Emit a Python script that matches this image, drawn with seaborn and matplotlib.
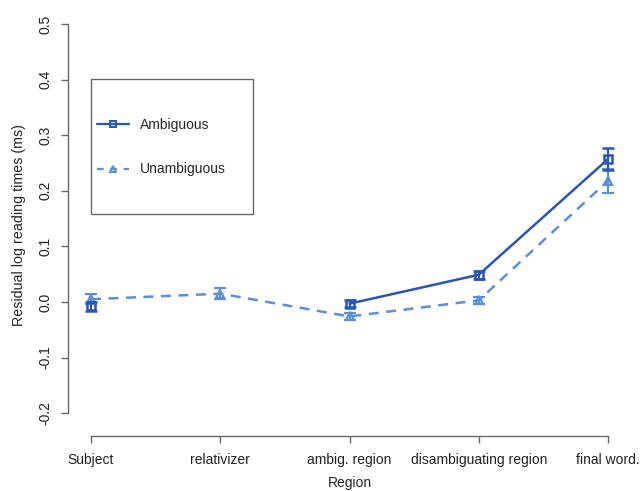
import matplotlib
matplotlib.use("Agg")
import matplotlib.pyplot as plt
import seaborn as sns
import numpy as np
import pandas as pd
from matplotlib.lines import Line2D
from matplotlib.patches import Rectangle

regions = ["Subject", "relativizer", "ambig. region", "disambiguating region", "final word."]
amb = [-0.008, np.nan, -0.003, 0.049, 0.257]
amb_err = [0.008, np.nan, 0.006, 0.007, 0.020]
unamb = [0.005, 0.015, -0.026, 0.003, 0.218]
unamb_err = [0.009, 0.010, 0.006, 0.006, 0.022]
yticks = [-0.2, -0.1, 0.0, 0.1, 0.2, 0.3, 0.4, 0.5]

c_amb = "#2a55b5"
c_unamb = "#5b8fd8"
axis_col = "#666666"

sns.set_style("white")
plt.rcParams["font.family"] = ["Liberation Sans", "DejaVu Sans"]
plt.rcParams["font.size"] = 10

rows = []
for cond, vals in [("Ambiguous", amb), ("Unambiguous", unamb)]:
    seg = 0
    for i, v in enumerate(vals):
        if np.isnan(v):
            seg += 1
            continue
        rows.append({"pos": i, "val": v, "cond": cond, "seg": f"{cond}{seg}"})
df = pd.DataFrame(rows)

fig = plt.figure(figsize=(6.42, 4.91), dpi=100)
# axes box in pixels: x 68..632, y 15..436
ax = fig.add_axes([68 / 642, 1 - 436 / 491, (632 - 68) / 642, (436 - 15) / 491])

sns.lineplot(data=df, x="pos", y="val", hue="cond", style="cond", units="seg",
             estimator=None, palette={"Ambiguous": c_amb, "Unambiguous": c_unamb},
             dashes={"Ambiguous": "", "Unambiguous": (4, 3)},
             markers=False, linewidth=1.8, legend=False, ax=ax)

x = np.arange(len(regions))
ax.errorbar(x, unamb, yerr=unamb_err, fmt="^", ms=6, mfc="none", mec=c_unamb, mew=1.6,
            ecolor=c_unamb, elinewidth=1.6, capsize=4, capthick=1.6, zorder=3)
ax.errorbar(x, amb, yerr=amb_err, fmt="s", ms=6, mfc="none", mec=c_amb, mew=1.8,
            ecolor=c_amb, elinewidth=1.6, capsize=4, capthick=1.6, zorder=4)

ux = (608 - 91) / 4
uy = 556
ax.set_xlim(-(91 - 68) / ux, 4 + (632 - 608) / ux)
ax.set_ylim(-(436 - 302) / uy, (302 - 15) / uy)
ax.set_xticks(x)
ax.set_xticklabels(regions)
ax.set_yticks(yticks)
ax.set_yticklabels([f"{t:.1f}" for t in yticks], rotation=90, va="center")
ax.set_xlabel("Region", labelpad=7)
ax.set_ylabel("Residual log reading times (ms)", labelpad=9, fontsize=10.3)

for s in ["top", "right"]:
    ax.spines[s].set_visible(False)
ax.spines["left"].set_bounds(-0.2, 0.5)
ax.spines["bottom"].set_bounds(0, 4)
for s in ["left", "bottom"]:
    ax.spines[s].set_color(axis_col)
    ax.spines[s].set_linewidth(1.0)
ax.tick_params(axis="both", length=5, width=1.0, color=axis_col, colors="#222222",
               direction="out", left=True, bottom=True)
ax.tick_params(axis="y", pad=6)
ax.tick_params(axis="x", pad=7)

# legend box
fig.patches.append(Rectangle((91 / 642, 1 - 214 / 491), 162 / 642, 135 / 491,
                             transform=fig.transFigure, fill=False,
                             edgecolor=axis_col, linewidth=1.0))
handles = [
    Line2D([], [], color=c_amb, lw=1.6, marker="s", ms=5, mfc="none", mew=1.4),
    Line2D([], [], color=c_unamb, lw=1.6, ls=(0, (3, 3)), marker="^", ms=5, mfc="none", mew=1.4),
]
fig.legend(handles, ["Ambiguous", "Unambiguous"], loc="upper left",
           bbox_to_anchor=(90 / 642, 1 - 111 / 491), frameon=False, numpoints=1,
           handlelength=2.3, handletextpad=0.8, labelspacing=2.2, borderpad=0,
           fontsize=10)

fig.savefig("out.png", dpi=100)
